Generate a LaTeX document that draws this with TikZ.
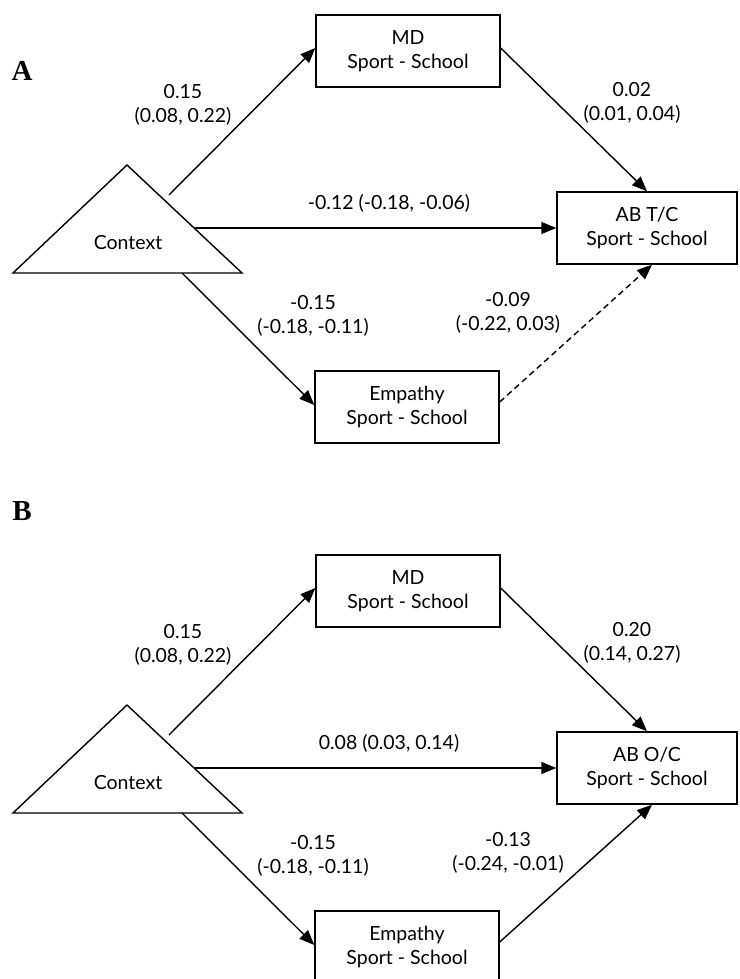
\documentclass[tikz,border=0pt]{standalone}
\usepackage{fontspec}
\setmainfont{Lato}
\newfontfamily\headfont{Liberation Serif}
\usetikzlibrary{arrows.meta}
\begin{document}
\begin{tikzpicture}[x=1pt,y=-1pt,
  box/.style={draw, line width=1.4pt, minimum width=184pt, minimum height=72pt, inner sep=0pt, align=center, font=\fontsize{19.5}{23.5}\selectfont},
  lbl/.style={align=center, inner sep=0pt, font=\fontsize{19.5}{23.5}\selectfont},
  panel/.style={font=\headfont\bfseries\fontsize{29}{29}\selectfont, inner sep=0pt},
  tri/.style={draw, line width=1.4pt, line join=miter},
  arr/.style={line width=1.4pt, -{Triangle[length=15pt,width=12pt]}},
  dasharr/.style={arr, dash pattern=on 6pt off 4pt}
]
\path[use as bounding box, clip] (0,0) rectangle (739,979);

% ---------- Panel A ----------
\node[panel] (pA) at (22,71) {A};
\coordinate (tA1) at (13,273);
\coordinate (tA2) at (127,165);
\coordinate (tA3) at (242,273);
\draw[tri] (tA1) -- (tA2) -- (tA3) -- cycle;
\node[lbl] (ctxA) at (128,243) {Context};
\coordinate (cA1) at (169,195);
\coordinate (cA2) at (195,228);
\coordinate (cA3) at (182,273);

\node[box] (mdA) at (408,51) {MD\\Sport - School};
\node[box, minimum width=180pt] (abA) at (647,228) {AB T/C\\Sport - School};
\node[box] (empA) at (407,407) {Empathy\\Sport - School};

\draw[arr] (cA1) -- ([yshift=3pt]mdA.west);
\draw[arr] ([yshift=3pt]mdA.east) -- (abA.north);
\draw[arr] (cA2) -- (abA.west);
\draw[arr] (cA3) -- ([yshift=2pt]empA.west);
\draw[dasharr] ([yshift=5pt]empA.east) -- ([xshift=5pt]abA.south);

\node[lbl] (l1A) at (183,105) {0.15\\(0.08, 0.22)};
\node[lbl] (l2A) at (389,203) {-0.12 (-0.18, -0.06)};
\node[lbl] (l3A) at (632,103) {0.02\\(0.01, 0.04)};
\node[lbl] (l4A) at (313,316) {-0.15\\(-0.18, -0.11)};
\node[lbl] (l5A) at (508,313) {-0.09\\(-0.22, 0.03)};

% ---------- Panel B ----------
\node[panel] (pB) at (22,511) {B};
\coordinate (tB1) at (13,813);
\coordinate (tB2) at (127,705);
\coordinate (tB3) at (242,813);
\draw[tri] (tB1) -- (tB2) -- (tB3) -- cycle;
\node[lbl] (ctxB) at (128,783) {Context};
\coordinate (cB1) at (169,735);
\coordinate (cB2) at (195,768);
\coordinate (cB3) at (182,813);

\node[box] (mdB) at (408,591) {MD\\Sport - School};
\node[box, minimum width=180pt] (abB) at (647,768) {AB O/C\\Sport - School};
\node[box] (empB) at (407,947) {Empathy\\Sport - School};

\draw[arr] (cB1) -- ([yshift=3pt]mdB.west);
\draw[arr] ([yshift=3pt]mdB.east) -- (abB.north);
\draw[arr] (cB2) -- (abB.west);
\draw[arr] (cB3) -- ([yshift=2pt]empB.west);
\draw[arr] ([yshift=5pt]empB.east) -- ([xshift=5pt]abB.south);

\node[lbl] (l1B) at (183,645) {0.15\\(0.08, 0.22)};
\node[lbl] (l2B) at (389,743) {0.08 (0.03, 0.14)};
\node[lbl] (l3B) at (632,643) {0.20\\(0.14, 0.27)};
\node[lbl] (l4B) at (313,856) {-0.15\\(-0.18, -0.11)};
\node[lbl] (l5B) at (508,853) {-0.13\\(-0.24, -0.01)};
\end{tikzpicture}
\end{document}
